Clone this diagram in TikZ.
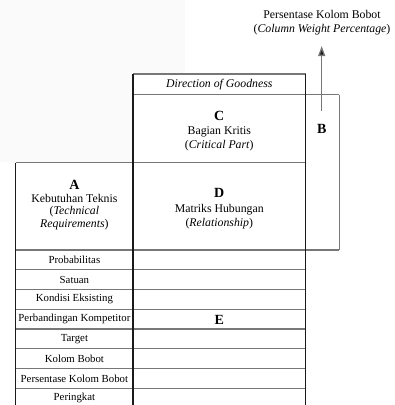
\documentclass[tikz,border=0pt]{standalone}
\usepackage{fontspec}
\setmainfont{Liberation Serif}
\usetikzlibrary{arrows.meta}
\definecolor{hline}{HTML}{777777}
\definecolor{vline}{HTML}{1A1A1A}
\definecolor{bggrey}{HTML}{FAFAFA}
\tikzset{
  hl/.style={draw=hline,line width=1.3pt},
  vl/.style={draw=vline,line width=1.3pt},
  txt/.style={inner sep=0pt,font=\fontsize{11.8}{13}\selectfont},
  rowtxt/.style={inner sep=0pt,font=\fontsize{10.8}{13}\selectfont},
  letter/.style={inner sep=0pt,font=\fontsize{14}{16}\selectfont\bfseries},
}
\begin{document}
\begin{tikzpicture}[x=1pt,y=-1pt]
\useasboundingbox (0,0) rectangle (395,405);
\fill[bggrey] (0,0) rectangle (185,162);
% white boxes
\fill[white] (133,74) rectangle (305.7,405);
\fill[white] (305.7,94.7) rectangle (339.3,250);
\fill[white] (15.7,162.7) rectangle (133,405);
% horizontal lines
\draw[hl] (133,74) -- (305.7,74);
\draw[hl] (133,94.7) -- (339.3,94.7);
\draw[hl] (15.7,162.7) -- (305.7,162.7);
\draw[hl] (15.7,250) -- (339.3,250);
\foreach \y in {269.75,289.5,309.25,329,348.75,368.5,388.25}
  \draw[hl] (15.7,\y) -- (305.7,\y);
% vertical lines
\draw[vl] (133,74) -- (133,406);
\draw[vl] (305.7,74) -- (305.7,406);
\draw[vl] (15.7,162.7) -- (15.7,406);
\draw[hl] (339.3,94.7) -- (339.3,250);
% arrow
\coordinate (arrS) at (321.7,111);
\coordinate (arrE) at (321.7,46);
\draw[draw=hline,line width=1.3pt,-{Triangle[length=10pt,width=7pt,fill=vline]}] (arrS) -- (arrE);
% top label
\node[txt] (t1) at (322,14.7) {Persentase Kolom Bobot};
\node[txt] (t2) at (322,29.3) {(\textit{Column Weight Percentage})};
% direction
\node[txt] (dir) at (219.3,84.5) {\textit{Direction of Goodness}};
% C
\node[letter] (C) at (219.3,116) {C};
\node[txt] (C1) at (219.3,131.7) {Bagian Kritis};
\node[txt] (C2) at (219.3,145.7) {(\textit{Critical Part})};
% B
\node[letter] (B) at (321.7,129.3) {B};
% D
\node[letter] (D) at (219.3,193.3) {D};
\node[txt] (D1) at (219.3,210) {Matriks Hubungan};
\node[txt] (D2) at (219.3,223.3) {(\textit{Relationship})};
% A
\node[letter] (A) at (74.4,185) {A};
\node[txt] (A1) at (74.4,198.3) {Kebutuhan Teknis};
\node[txt] (A2) at (74.4,211.7) {(\textit{Technical}};
\node[txt] (A3) at (74.4,225) {\textit{Requirements})};
% rows
\node[rowtxt] (r1) at (74.4,259.9) {Probabilitas};
\node[rowtxt] (r2) at (74.4,279.6) {Satuan};
\node[rowtxt] (r3) at (74.4,299.4) {Kondisi Eksisting};
\node[rowtxt] (r4) at (74.4,319.1) {Perbandingan Kompetitor};
\node[rowtxt] (r5) at (74.4,338.9) {Target};
\node[rowtxt] (r6) at (74.4,358.6) {Kolom Bobot};
\node[rowtxt] (r7) at (74.4,378.4) {Persentase Kolom Bobot};
\node[rowtxt] (r8) at (74.4,398.1) {Peringkat};
% E
\node[letter] (E) at (219.3,320) {E};
\end{tikzpicture}
\end{document}
